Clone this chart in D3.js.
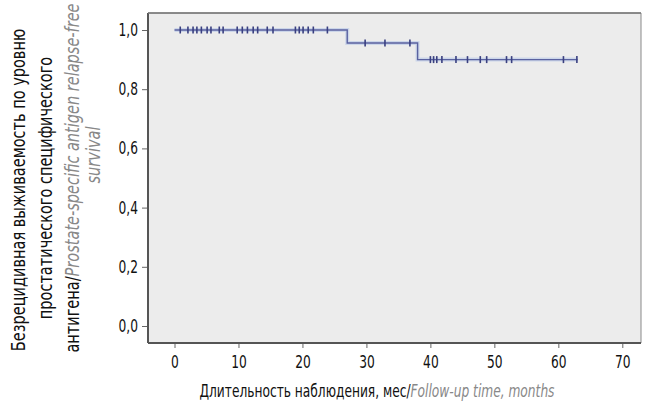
<!DOCTYPE html>
<html><head><meta charset="utf-8">
<script src="https://cdn.jsdelivr.net/npm/d3@7"></script>
<style>
body{margin:0;background:#fff;}
svg{display:block;}
text{font-family:"DejaVu Sans Condensed","Liberation Sans Narrow",sans-serif;}
</style></head>
<body><svg id="c" width="646" height="404"></svg>
<script>
const xTicks = [0,10,20,30,40,50,60,70];
const yTicks = [0,0.2,0.4,0.6,0.8,1.0];
const stepTimes = [0, 27, 38];
const stepSurv = [1.0, 0.956, 0.90];
const endTime = 63;
const censored1 = [0.9,2.1,2.9,3.5,4.2,5.1,5.7,7.0,7.6,9.8,10.6,11.4,12.3,13.0,14.5,15.4,18.9,19.5,20.1,20.9,21.7,23.9];
const censored2 = [29.8,32.9,36.8];
const censored3 = [40.0,40.5,41.0,41.8,44.0,45.8,47.8,48.8,51.9,52.7,60.8,62.9];

const SX = 0.8;
const SY = 0.85;
const svg = d3.select("#c");
const L=148, T=13, R=641, B=343;
const x = d3.scaleLinear().domain([0,70]).range([174.5,622.3]);
const y = d3.scaleLinear().domain([0,1]).range([326,30]);

svg.append("rect").attr("x",L).attr("y",T).attr("width",R-L).attr("height",B-T).attr("fill","#ececec");

// frame
svg.append("path").attr("d",`M${L},${B}V${T}H${R}V${B}Z`).attr("fill","none").attr("stroke","#8a8a8a").attr("stroke-width",1);
svg.append("line").attr("x1",L).attr("x2",L).attr("y1",T).attr("y2",B).attr("stroke","#555").attr("stroke-width",2);
svg.append("line").attr("x1",L).attr("x2",R).attr("y1",B).attr("y2",B).attr("stroke","#555").attr("stroke-width",2);
svg.append("line").attr("x1",L).attr("x2",R).attr("y1",T).attr("y2",T).attr("stroke","#777").attr("stroke-width",1.5);

// y axis
const fmt = d => d.toFixed(1).replace(".",",");
const ya = svg.append("g").attr("transform",`translate(${L-1},0)`)
  .call(d3.axisLeft(y).tickValues(yTicks).tickFormat(fmt).tickSize(5).tickPadding(7));
ya.select(".domain").remove();
ya.selectAll("line").attr("stroke","#666");
ya.selectAll("text").attr("font-size",17).attr("fill","#111").attr("font-family",null)
  .attr("x",-9/SX).attr("transform",`scale(${SX},1)`);

const xa = svg.append("g").attr("transform",`translate(0,${B+1})`)
  .call(d3.axisBottom(x).tickValues(xTicks).tickFormat(d=>d).tickSize(4).tickPadding(8));
xa.select(".domain").remove();
xa.selectAll("line").attr("stroke","#666");
xa.selectAll("text").attr("font-size",17).attr("fill","#111").attr("font-family",null)
  .attr("transform",`scale(${SX},1)`);

// KM step line
const pts = [];
stepTimes.forEach((t,i)=>{
  if(i>0) pts.push([t, stepSurv[i-1]]);
  pts.push([t, stepSurv[i]]);
});
pts.push([endTime, stepSurv[stepSurv.length-1]]);
const line = d3.line().x(d=>x(d[0])).y(d=>y(d[1]));
svg.append("path").datum(pts).attr("d",line).attr("fill","none").attr("stroke","#b8c8e8").attr("stroke-width",4).attr("opacity",0.6);
svg.append("path").datum(pts).attr("d",line).attr("fill","none").attr("stroke","#5a62a0").attr("stroke-width",1.4);

const marks = [].concat(
  censored1.map(t=>[t,stepSurv[0]]),
  censored2.map(t=>[t,stepSurv[1]]),
  censored3.map(t=>[t,stepSurv[2]]));
svg.append("g").selectAll("line").data(marks).join("line")
  .attr("x1",d=>x(d[0])).attr("x2",d=>x(d[0]))
  .attr("y1",d=>y(d[1])-3.5).attr("y2",d=>y(d[1])+3.5)
  .attr("stroke","#3a4080").attr("stroke-width",1.6);

// x title
const xt = svg.append("text").attr("transform",`translate(377,397) scale(${SX},1)`).attr("text-anchor","middle").attr("font-size",17);
xt.append("tspan").attr("fill","#111").text("Длительность наблюдения, мес/");
xt.append("tspan").attr("fill","#888").attr("font-style","italic").text("Follow-up time, months");

// y title
const yl = [
  {x:25, cy:190, parts:[["Безрецидивная выживаемость по уровню","#111",false]]},
  {x:52, cy:188, parts:[["простатического специфического","#111",false]]},
  {x:79, cy:178, parts:[["антигена/","#111",false],["Prostate-specific antigen relapse-free","#888",true]]},
  {x:100, cy:155, parts:[["survival","#888",true]]}
];
yl.forEach(l=>{
  const t = svg.append("text").attr("transform",`translate(${l.x},${l.cy}) rotate(-90) scale(${SY},1)`).attr("text-anchor","middle").attr("font-size",19);
  l.parts.forEach(p=>t.append("tspan").attr("fill",p[1]).attr("font-style",p[2]?"italic":null).text(p[0]));
});
</script></body></html>
